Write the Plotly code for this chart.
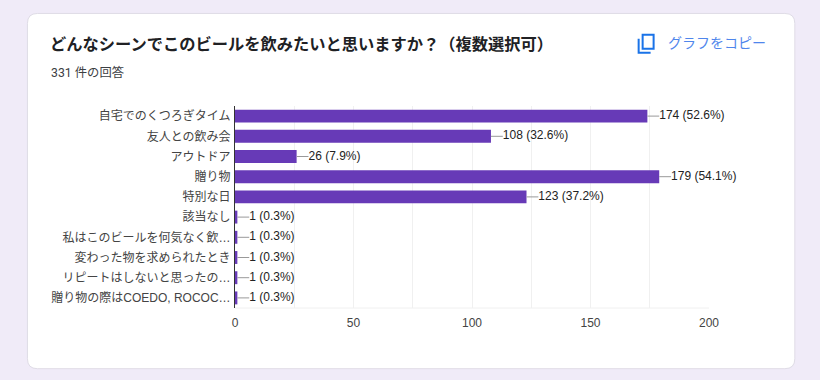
import plotly.graph_objects as go

categories = ["自宅でのくつろぎタイム", "友人との飲み会", "アウトドア", "贈り物", "特別な日", "該当なし",
              "私はこのビールを何気なく飲…", "変わった物を求められたとき", "リピートはしないと思ったの…", "贈り物の際はCOEDO, ROCOC…"]
values = [174, 108, 26, 179, 123, 1, 1, 1, 1, 1]
percents = ["52.6", "32.6", "7.9", "54.1", "37.2", "0.3", "0.3", "0.3", "0.3", "0.3"]
labels = [f"{v} ({p}%)" for v, p in zip(values, percents)]
x_ticks = [0, 50, 100, 150, 200]

W, H = 820, 380
L, R, T, B = 234.5, 709.5, 105.5, 308.5
FONT = "Roboto, 'Noto Sans CJK JP', sans-serif"
CHART_FONT = "'Liberation Sans', 'Noto Sans CJK JP', sans-serif"
LEAD = 5

def px(x):
    return (x - L) / (R - L)

def py(y):
    return (B - y) / (B - T)

fig = go.Figure()
fig.add_trace(go.Bar(
    y=categories, x=values, orientation="h", marker=dict(color="#673ab7", line_width=0),
    error_x=dict(type="constant", value=LEAD, valueminus=0, symmetric=False, color="#999999", thickness=1, width=0),
    hoverinfo="skip", cliponaxis=False,
))
fig.add_trace(go.Scatter(
    y=categories, x=[v + LEAD for v in values], mode="text", text=labels, textposition="middle right",
    textfont=dict(family=CHART_FONT, size=12, color="#222222"), hoverinfo="skip", cliponaxis=False,
))

def rrect(x0, y0, x1, y1, r):
    a0, a1 = px(x0), px(x1)
    b0, b1 = py(y0), py(y1)
    rx = r / (R - L)
    ry = r / (B - T)
    return (f"M{a0+rx},{b0} L{a1-rx},{b0} Q{a1},{b0} {a1},{b0-ry} L{a1},{b1+ry} Q{a1},{b1} {a1-rx},{b1} "
            f"L{a0+rx},{b1} Q{a0},{b1} {a0},{b1+ry} L{a0},{b0-ry} Q{a0},{b0} {a0+rx},{b0} Z")

shapes = [
    dict(type="path", path=rrect(26.5, 12.5, 795.5, 369.5, 10), xref="paper", yref="paper", layer="below",
         fillcolor="#ffffff", line=dict(color="#dfdce6", width=1)),
    dict(type="rect", xref="paper", yref="paper", x0=px(643), x1=px(654), y0=py(34), y1=py(48),
         line=dict(color="#1a73e8", width=2), fillcolor="rgba(0,0,0,0)"),
    dict(type="path", xref="paper", yref="paper",
         path=f"M{px(639)},{py(38)} L{px(639)},{py(52)} L{px(651)},{py(52)}",
         line=dict(color="#1a73e8", width=2)),
]

def note(x, y, text, size, color, weight=None):
    t = f"<b>{text}</b>" if weight else text
    return dict(x=px(x), y=py(y), xref="paper", yref="paper", xanchor="left", yanchor="middle", showarrow=False,
                text=t, font=dict(family=FONT, size=size, color=color), align="left")

annotations = [
    note(47.5, 44, "どんなシーンでこのビールを飲みたいと思いますか？（複数選択可）", 16.25, "#202124", True),
    note(48, 72, "331 件の回答", 12.3, "#3c4043"),
    note(666, 42, "グラフをコピー", 14, "#4f86ec"),
]

fig.update_layout(
    width=W, height=H, margin=dict(l=L, r=W - R, t=T, b=H - B, pad=0, autoexpand=False),
    paper_bgcolor="#f0ebf8", plot_bgcolor="rgba(0,0,0,0)", showlegend=False, bargap=0.36,
    font=dict(family=CHART_FONT, size=12, color="#444444"), shapes=shapes, annotations=annotations,
    xaxis=dict(range=[0, 200], tickvals=x_ticks, showgrid=True, gridcolor="#f0f0f0", gridwidth=1, zeroline=False,
               showline=False, ticks="", tickfont=dict(family=CHART_FONT, size=12, color="#444444"), ticklabelstandoff=6,
               minor=dict(tickvals=[25, 75, 125, 175], showgrid=True, gridcolor="#f0f0f0", gridwidth=1, ticks="")),
    yaxis=dict(autorange="reversed", showgrid=False, zeroline=False, showline=True, linecolor="#333333", linewidth=1,
               ticks="", ticklabelstandoff=1, tickfont=dict(family=CHART_FONT, size=12, color="#444444")),
)
fig.add_shape(type="line", xref="paper", yref="paper", x0=0, x1=1, y0=0, y1=0, line=dict(color="#f0f0f0", width=1), layer="below")
fig.write_html("out.html", config=dict(displayModeBar=False),
               post_script="document.body.style.margin='0';document.body.style.overflow='hidden';")
